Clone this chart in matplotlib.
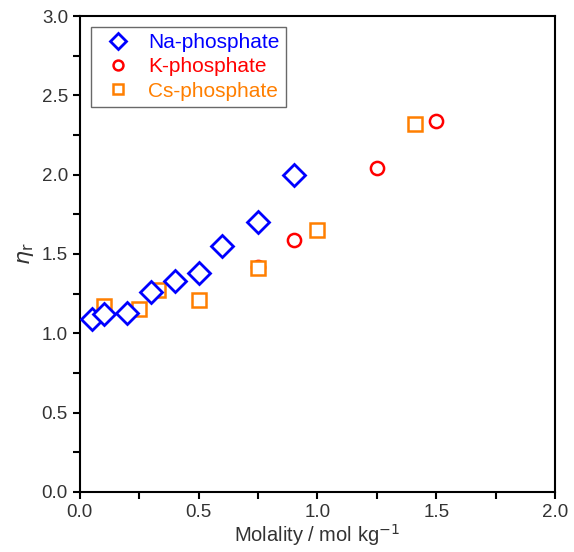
import matplotlib
matplotlib.use("Agg")
import matplotlib.pyplot as plt
from matplotlib.ticker import MultipleLocator

plt.rcParams["font.family"] = ["Liberation Sans", "DejaVu Sans"]

# molality (mol/kg) vs relative viscosity
na_m = [0.05, 0.10, 0.20, 0.30, 0.40, 0.50, 0.60, 0.75, 0.90]
na_eta = [1.09, 1.12, 1.13, 1.26, 1.33, 1.38, 1.55, 1.70, 2.00]

k_m = [0.10, 0.50, 0.75, 0.90, 1.25, 1.50]
k_eta = [1.13, 1.38, 1.42, 1.59, 2.04, 2.34]

cs_m = [0.10, 0.25, 0.33, 0.50, 0.75, 1.00, 1.41]
cs_eta = [1.17, 1.15, 1.27, 1.21, 1.41, 1.65, 2.32]

fig = plt.figure(figsize=(5.74, 5.52), dpi=100)
ax = fig.add_axes([0.139, 0.109, 0.828, 0.862])

ax.plot(k_m, k_eta, "o", ms=9.5, mfc="white", mec="#ff0000", mew=1.8,
        label="K-phosphate", zorder=3)
ax.plot(cs_m, cs_eta, "s", ms=9.5, mfc="white", mec="#ff7f00", mew=1.8,
        label="Cs-phosphate", zorder=4)
ax.plot(na_m, na_eta, "D", ms=11, mfc="white", mec="#0000ff", mew=2,
        label="Na-phosphate", zorder=5)

ax.set_xlim(0, 2.0)
ax.set_ylim(0, 3.0)
ax.xaxis.set_major_locator(MultipleLocator(0.5))
ax.xaxis.set_minor_locator(MultipleLocator(0.25))
ax.yaxis.set_major_locator(MultipleLocator(0.5))
ax.yaxis.set_minor_locator(MultipleLocator(0.25))
ax.xaxis.set_major_formatter(plt.FormatStrFormatter("%.1f"))
ax.yaxis.set_major_formatter(plt.FormatStrFormatter("%.1f"))
ax.tick_params(which="major", direction="out", length=5, width=1.5,
               labelsize=13.5, labelcolor="#333333")
ax.tick_params(which="minor", direction="out", length=5, width=1.5)
for s in ax.spines.values():
    s.set_linewidth(1.5)

ax.set_xlabel("Molality / mol kg$^{-1}$", fontsize=14.5, color="#333333", labelpad=1)
ax.set_ylabel(r"$\eta_\mathrm{r}$", fontsize=16, color="#333333", labelpad=4)

h, l = ax.get_legend_handles_labels()
order = [2, 0, 1]
leg = ax.legend([h[i] for i in order], [l[i] for i in order],
                loc="upper left", bbox_to_anchor=(0.023, 0.977), borderaxespad=0,
                fontsize=15, frameon=True, fancybox=False, edgecolor="#444444",
                handletextpad=0.45, borderpad=0.3, labelspacing=0.25,
                markerscale=0.75)
leg.get_frame().set_linewidth(1.0)
for txt, c in zip(leg.get_texts(), ["#0000ff", "#ff0000", "#ff7f00"]):
    txt.set_color(c)

fig.savefig("out.png", dpi=100)
